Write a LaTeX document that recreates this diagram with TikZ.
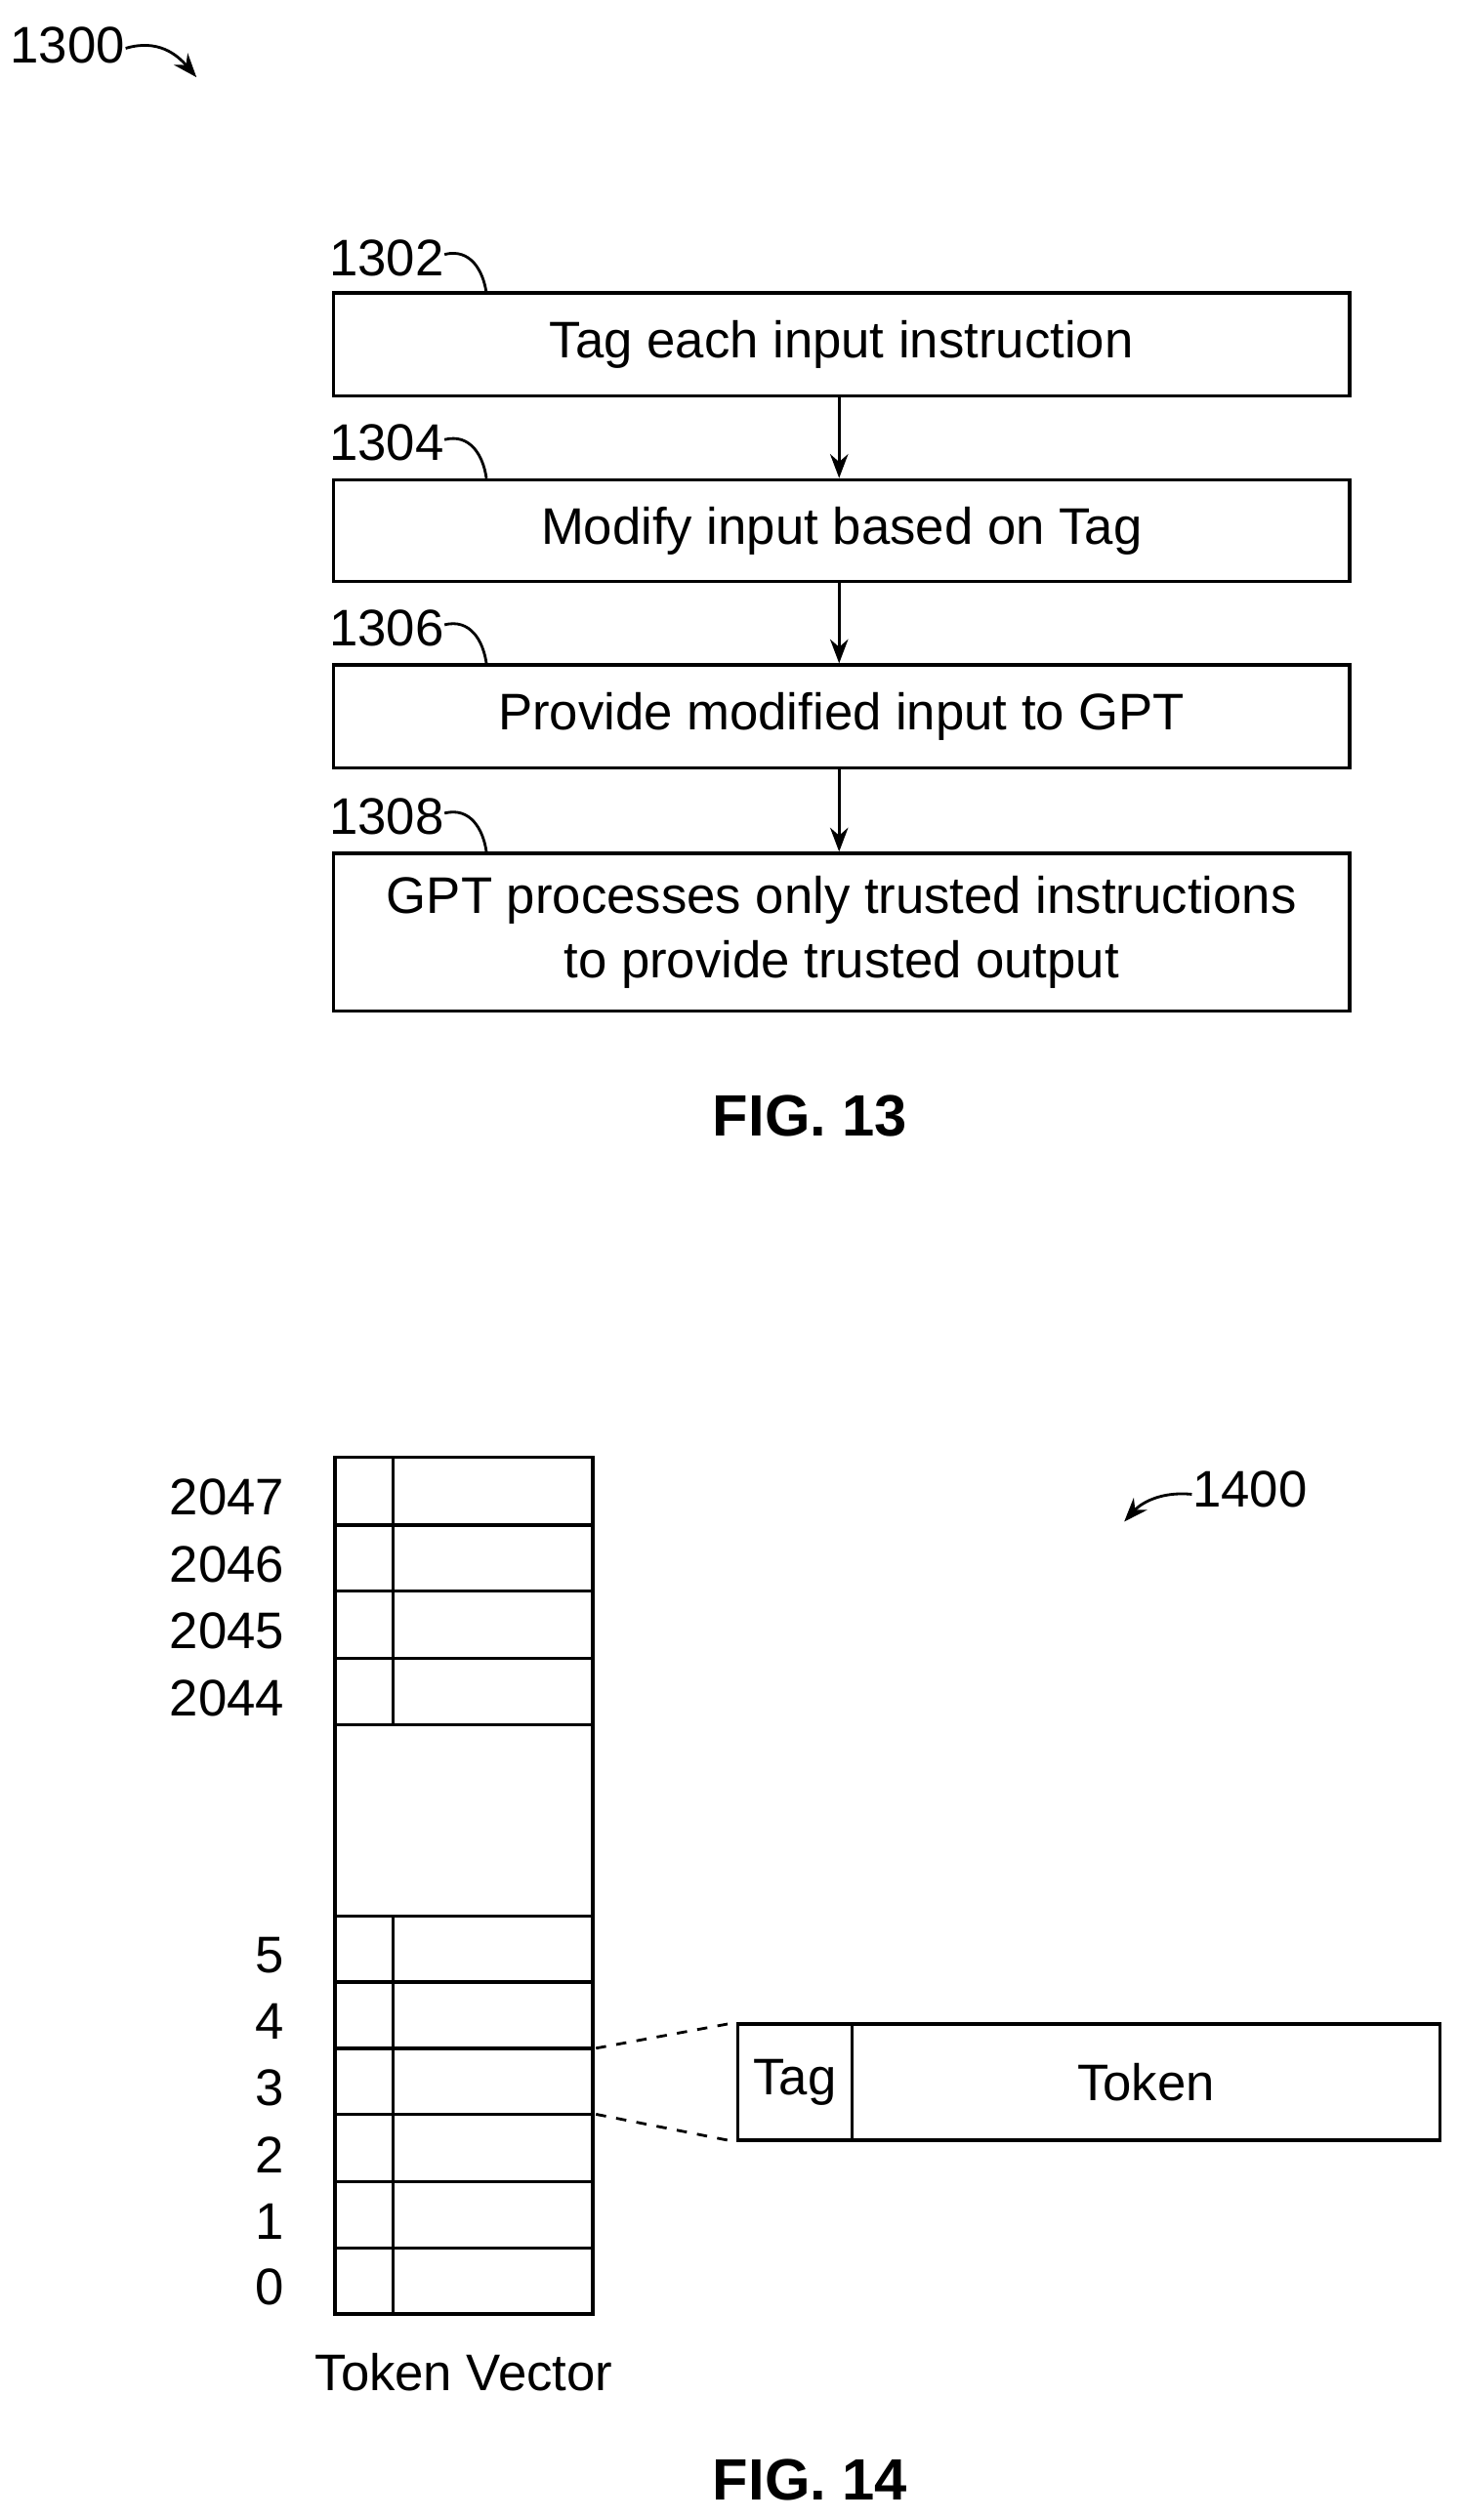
\documentclass[tikz,border=0pt]{standalone}
\usepackage{fontspec}
\setmainfont{Liberation Sans}
\usetikzlibrary{arrows.meta,positioning}
\newlength{\pxunit}
\setlength{\pxunit}{0.01649cm}
\tikzset{
  stepbox/.style={draw, line width=1pt, minimum width=631*\pxunit, inner sep=0pt, align=center, font=\fontsize{15}{19}\selectfont},
  reflabel/.style={font=\fontsize{15}{18}\selectfont},
  cell/.style={draw, line width=1pt},
  flow/.style={-{Stealth[length=7pt]}, line width=0.8pt}
}
\begin{document}
\begin{tikzpicture}[x=0.01649cm, y=-0.01649cm]
    \useasboundingbox (0,0) rectangle (906,1565);
    % FIG. 13
    \node[reflabel] (f13ref) at (42,28) {1300};
    \draw[flow] (78,30) .. controls (98,24) and (110,34) .. (122,48);
    \node[stepbox, minimum height=64*\pxunit] (tag) at (522.5,214) {Tag each input instruction};
    \node[stepbox, minimum height=63*\pxunit] (modify) at (522.5,329.5) {Modify input based on Tag};
    \node[stepbox, minimum height=64*\pxunit] (provide) at (522.5,445) {Provide modified input to GPT};
    \node[stepbox, minimum height=98*\pxunit] (process) at (522.5,579) {GPT processes only trusted instructions\\to provide trusted output};
    \foreach \n/\y in {1302/160, 1304/275, 1306/390, 1308/507} {
        \node[reflabel] at (240,\y) {\n};
        \draw[line width=0.8pt] (276,\y-2) .. controls (292,\y-6) and (300,\y+8) .. (302,\y+22);
    }
    \draw[flow] (tag.south -| 521,0) -- (modify.north -| 521,0);
    \draw[flow] (modify.south -| 521,0) -- (provide.north -| 521,0);
    \draw[flow] (provide.south -| 521,0) -- (process.north -| 521,0);
    \node[font=\bfseries\fontsize{17}{20}\selectfont] (fig13) at (503,693) {FIG. 13};
    % FIG. 14
    \foreach \t/\b/\l in {905/947/2047, 947/988/2046, 988/1030/2045, 1030/1071/2044} {
        \draw[cell] (208,\t) rectangle (244,\b);
        \draw[cell] (244,\t) rectangle (368,\b);
        \node[reflabel, anchor=east] at (184,{(\t+\b)/2+4}) {\l};
    }
    \draw[cell] (208,1071) rectangle (368,1190);
    \foreach \t/\b/\l in {1190/1231/5, 1231/1272/4, 1272/1313/3, 1313/1355/2, 1355/1396/1, 1396/1437/0} {
        \draw[cell] (208,\t) rectangle (244,\b);
        \draw[cell] (244,\t) rectangle (368,\b);
        \node[reflabel, anchor=east] at (184,{(\t+\b)/2+4}) {\l};
    }
    \node[reflabel] (tvlabel) at (288,1473) {Token Vector};
    \node[draw, line width=1pt, minimum width=71*\pxunit, minimum height=72*\pxunit, inner sep=0pt, anchor=north west, reflabel] (tagcell) at (457,1256) {Tag};
    \node[draw, line width=1pt, minimum width=365*\pxunit, minimum height=72*\pxunit, inner sep=0pt, anchor=north west, reflabel] (tokencell) at (528,1256) {Token};
    \coordinate (row3top) at (370,1272);
    \coordinate (row3bot) at (370,1313);
    \draw[dashed, line width=0.8pt] (row3top) -- (tagcell.north west);
    \draw[dashed, line width=0.8pt] (row3bot) -- (tagcell.south west);
    \node[reflabel] (f14ref) at (776,925) {1400};
    \draw[flow] (740,928) .. controls (720,926) and (708,934) .. (698,945);
    \node[font=\bfseries\fontsize{17}{20}\selectfont] (fig14) at (503,1540) {FIG. 14};
\end{tikzpicture}
\end{document}
